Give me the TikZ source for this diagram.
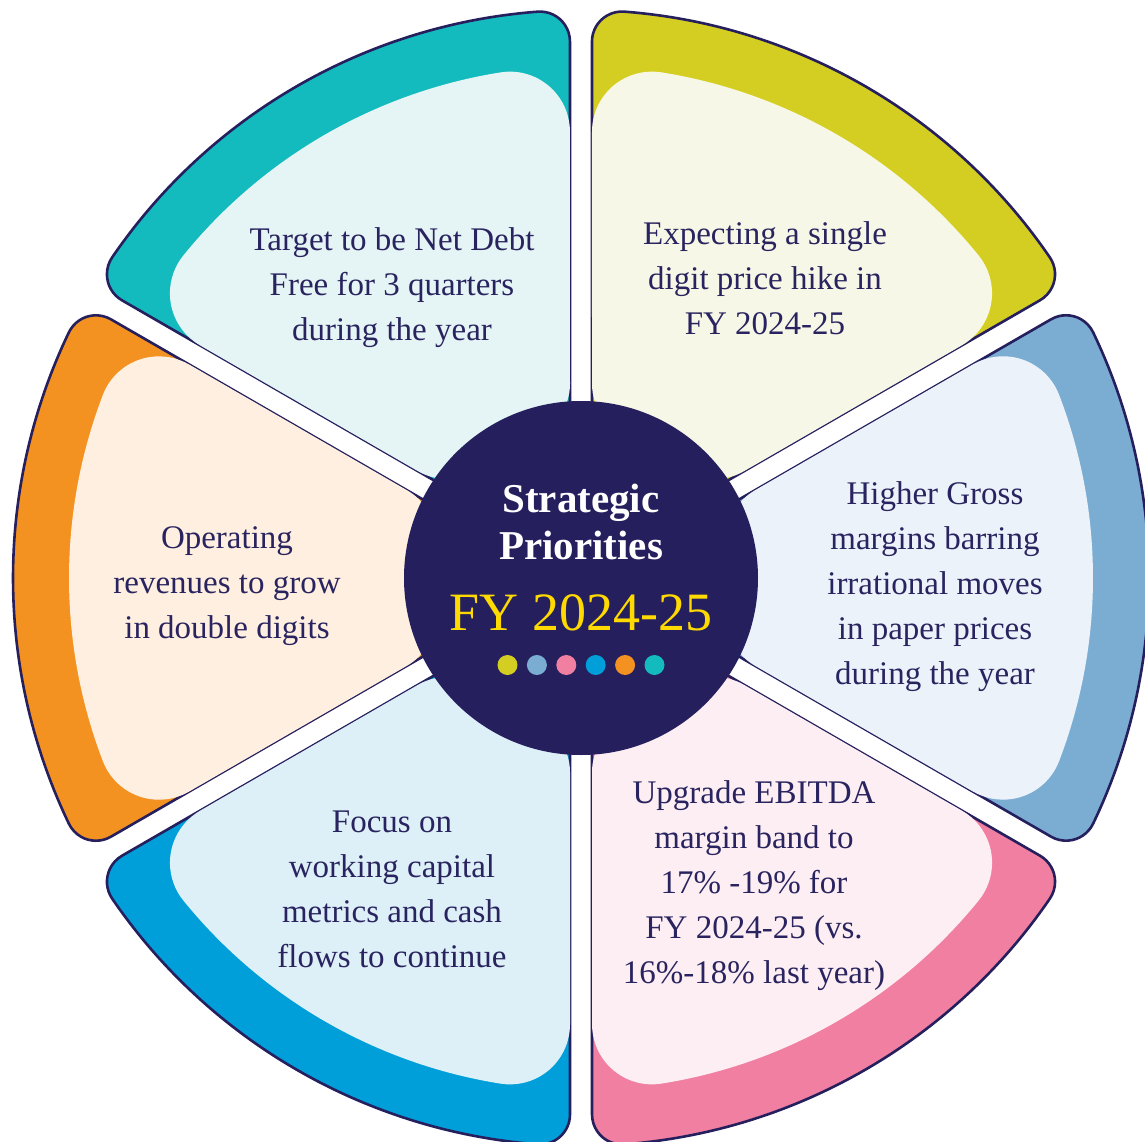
\documentclass[tikz,border=0pt]{standalone}
\usepackage{fontspec}
\setmainfont{Liberation Serif}
\definecolor{navy}{HTML}{251F5E}
\definecolor{navytext}{HTML}{29245F}
\definecolor{cteal}{HTML}{14BBBE}
\definecolor{lteal}{HTML}{E5F5F5}
\definecolor{cyel}{HTML}{D5CE22}
\definecolor{lyel}{HTML}{F6F7E6}
\definecolor{csteel}{HTML}{7BADD3}
\definecolor{lsteel}{HTML}{ECF2FA}
\definecolor{cpink}{HTML}{F07FA1}
\definecolor{lpink}{HTML}{FDEEF3}
\definecolor{cblue}{HTML}{009FD9}
\definecolor{lblue}{HTML}{DDF0F8}
\definecolor{corange}{HTML}{F39221}
\definecolor{lorange}{HTML}{FEEFE0}
\definecolor{cyellowtxt}{HTML}{FFDA00}
\tikzset{
  band/.style={draw=navy, line width=2.6pt, line join=round},
  bodytext/.style={font=\fontsize{33}{45}\selectfont, text=navytext, align=center},
  dot/.style={circle, inner sep=0pt, minimum size=20pt},
  outerwedge/.style={insert path={(22,0) -- (470.06,258.70) arc[start angle=120, end angle=25.63, radius=30] arc[start angle=25.63, end angle=-25.63, radius=568] arc[start angle=-25.63, end angle=-120, radius=30] -- cycle}},
  innerwedge/.style={insert path={(173.59,87.52) -- (392.08,213.67) arc[start angle=120, end angle=20.96, radius=60] arc[start angle=20.96, end angle=-20.96, radius=512] arc[start angle=-20.96, end angle=-120, radius=60] -- (173.59,-87.52) arc[start angle=240, end angle=168.78, radius=55] arc[start angle=-11.22, end angle=11.22, radius=150] arc[start angle=191.22, end angle=120, radius=55] -- cycle}}
}
\begin{document}
\begin{tikzpicture}[x=1pt, y=1pt]
\useasboundingbox (-581,-563) rectangle (564,578);
\foreach \ang/\col/\lt in {120/cteal/lteal, 60/cyel/lyel, 0/csteel/lsteel, -60/cpink/lpink, -120/cblue/lblue, 180/corange/lorange} {
  \begin{scope}[rotate=\ang]
    \path[band, fill=\col, outerwedge];
    \path[fill=\lt, innerwedge];
  \end{scope}
}
\fill[navy] (0,0) circle[radius=177];
\node[bodytext] (t1) at (-189,290.5) {Target to be Net Debt\\Free for 3 quarters\\during the year};
\node[bodytext] (t2) at (184,300) {Expecting a single\\digit price hike in\\FY 2024-25};
\node[bodytext] (t3) at (354,-9) {Higher Gross\\margins barring\\irrational moves\\in paper prices\\during the year};
\node[bodytext] (t4) at (173,-308) {Upgrade EBITDA\\margin band to\\17\% -19\% for\\FY 2024-25 (vs.\\16\%-18\% last year)};
\node[bodytext] (t5) at (-189,-311.5) {Focus on\\working capital\\metrics and cash\\flows to continue};
\node[bodytext] (t6) at (-354,-8.5) {Operating\\revenues to grow\\in double digits};
\node[font=\fontsize{41}{47}\bfseries\selectfont, text=white, align=center] (title) at (0,56.5) {Strategic\\Priorities};
\node[font=\fontsize{54}{60}\selectfont, text=cyellowtxt] (year) at (0,-35) {FY 2024-25};
\foreach \i/\c in {0/cyel, 1/csteel, 2/cpink, 3/cblue, 4/corange, 5/cteal} {
  \node[dot, fill=\c] (d\i) at ({-73.5+29.4*\i},-87) {};
}
\end{tikzpicture}
\end{document}
